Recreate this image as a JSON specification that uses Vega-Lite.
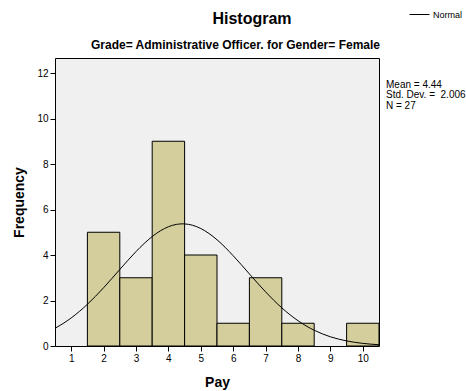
{
  "$schema": "https://vega.github.io/schema/vega-lite/v6.json",
  "width": 324,
  "height": 288,
  "autosize": "none",
  "padding": {"left": 55, "top": 58, "right": 87, "bottom": 45},
  "background": "white",
  "config": {
    "font": "Liberation Sans",
    "view": {"fill": "#f0f0f0", "stroke": "black", "strokeWidth": 1},
    "axis": {"labelFont": "Liberation Sans", "titleFont": "Liberation Sans", "labelFontSize": 10, "labelColor": "#000", "tickColor": "#000", "grid": false, "titleColor": "#000"}
  },
  "title": {
    "text": "Histogram",
    "fontSize": 16,
    "fontWeight": "bold",
    "font": "Liberation Sans",
    "anchor": "middle",
    "dx": 35,
    "offset": -23,
    "color": "#000"
  },
  "datasets": {
    "bins": [
      {"pay": 2, "start": 1.5, "end": 2.5, "count": 5},
      {"pay": 3, "start": 2.5, "end": 3.5, "count": 3},
      {"pay": 4, "start": 3.5, "end": 4.5, "count": 9},
      {"pay": 5, "start": 4.5, "end": 5.5, "count": 4},
      {"pay": 6, "start": 5.5, "end": 6.5, "count": 1},
      {"pay": 7, "start": 6.5, "end": 7.5, "count": 3},
      {"pay": 8, "start": 7.5, "end": 8.5, "count": 1},
      {"pay": 10, "start": 9.5, "end": 10.5, "count": 1}
    ],
    "curve": [
      {"x": 0.5, "y": 0.780}, {"x": 0.75, "y": 0.989}, {"x": 1, "y": 1.234}, {"x": 1.25, "y": 1.516},
      {"x": 1.5, "y": 1.834}, {"x": 1.75, "y": 2.185}, {"x": 2, "y": 2.562}, {"x": 2.25, "y": 2.959},
      {"x": 2.5, "y": 3.364}, {"x": 2.75, "y": 3.765}, {"x": 3, "y": 4.150}, {"x": 3.25, "y": 4.503},
      {"x": 3.5, "y": 4.811}, {"x": 3.75, "y": 5.061}, {"x": 4, "y": 5.242}, {"x": 4.25, "y": 5.346},
      {"x": 4.44, "y": 5.370}, {"x": 4.5, "y": 5.367}, {"x": 4.75, "y": 5.306}, {"x": 5, "y": 5.164},
      {"x": 5.25, "y": 4.949}, {"x": 5.5, "y": 4.670}, {"x": 5.75, "y": 4.339}, {"x": 6, "y": 3.968},
      {"x": 6.25, "y": 3.574}, {"x": 6.5, "y": 3.169}, {"x": 6.75, "y": 2.767}, {"x": 7, "y": 2.379},
      {"x": 7.25, "y": 2.013}, {"x": 7.5, "y": 1.677}, {"x": 7.75, "y": 1.376}, {"x": 8, "y": 1.112},
      {"x": 8.25, "y": 0.884}, {"x": 8.5, "y": 0.693}, {"x": 8.75, "y": 0.534}, {"x": 9, "y": 0.405},
      {"x": 9.25, "y": 0.303}, {"x": 9.5, "y": 0.223}, {"x": 9.75, "y": 0.162}, {"x": 10, "y": 0.115},
      {"x": 10.25, "y": 0.081}, {"x": 10.5, "y": 0.056}
    ],
    "stats": [
      {"label": "Mean = 4.44\nStd. Dev. = \u00a02.006\nN = 27"}
    ]
  },
  "layer": [
    {
      "data": {"name": "bins"},
      "mark": {"type": "rect", "fill": "#d3ce9b", "stroke": "black", "strokeWidth": 1},
      "encoding": {
        "x": {
          "field": "start", "type": "quantitative",
          "scale": {"domain": [0.5, 10.5], "nice": false, "zero": false},
          "axis": {"orient": "bottom", "values": [1,2,3,4,5,6,7,8,9,10], "domain": false, "tickSize": 5, "labelPadding": 2, "title": "Pay", "titleFontSize": 14, "titleFontWeight": "bold", "titlePadding": 12}
        },
        "x2": {"field": "end"},
        "y": {
          "field": "count", "type": "quantitative",
          "scale": {"domain": [0, 12.66], "nice": false},
          "axis": {"values": [0,2,4,6,8,10,12], "domain": false, "tickSize": 5, "labelPadding": 2, "title": "Frequency", "titleFontSize": 14, "titleFontWeight": "bold", "titlePadding": 10}
        },
        "y2": {"datum": 0}
      }
    },
    {
      "data": {"name": "curve"},
      "mark": {"type": "line", "strokeWidth": 1, "interpolate": "monotone"},
      "encoding": {
        "x": {
          "field": "x", "type": "quantitative",
          "axis": {"orient": "top", "domain": false, "ticks": false, "labels": false, "title": "Grade= Administrative Officer. for Gender= Female", "titleFontSize": 12, "titleFontWeight": "bold", "titlePadding": 7, "titleX": 180}
        },
        "y": {"field": "y", "type": "quantitative"},
        "stroke": {
          "datum": "Normal",
          "scale": {"range": ["black"]},
          "legend": {"title": null, "orient": "none", "legendX": 354, "legendY": -54, "symbolType": "stroke", "symbolSize": 400, "symbolStrokeWidth": 1, "labelFontSize": 9, "labelFont": "Liberation Sans", "labelColor": "#000", "labelOffset": 3, "padding": 0}
        }
      }
    },
    {
      "data": {"name": "stats"},
      "mark": {"type": "text", "align": "left", "baseline": "top", "fontSize": 10, "lineBreak": "\n", "lineHeight": 10.5, "dx": 7, "clip": false, "color": "#000", "font": "Liberation Sans"},
      "encoding": {
        "text": {"field": "label"},
        "x": {"datum": 10.5, "type": "quantitative", "axis": null},
        "y": {"datum": 11.7, "type": "quantitative"}
      }
    }
  ],
  "resolve": {"axis": {"x": "independent"}}
}
